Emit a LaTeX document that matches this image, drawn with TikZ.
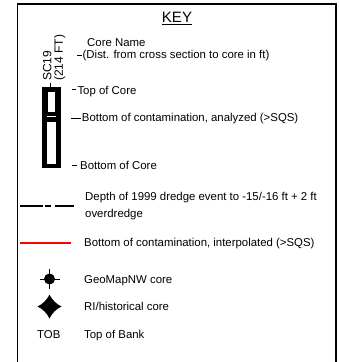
\documentclass[tikz,border=0pt]{standalone}
\usepackage{fontspec}
\setmainfont{Liberation Sans}
\begin{document}
\begin{tikzpicture}[x=1pt,y=-1pt,
	lbl/.style={anchor=base west,inner sep=0pt,font=\fontsize{11.4}{13.7}\selectfont},
	tick/.style={line width=0.9pt}]
	\useasboundingbox (0,0) rectangle (339,362);
	\draw[line width=1.5pt] (17.5,362)--(17.5,4.2)--(335.8,4.2)--(335.8,362);
	\node[anchor=base,inner sep=0pt,font=\fontsize{15}{18}\selectfont] (key) at (177,22.7) {\underline{KEY}};
	% core column
	\fill (42,87) rectangle (61,168);
	\fill[white] (47.5,92) rectangle (55,111.5);
	\fill[white] (46.5,116) rectangle (55.5,117.3);
	\fill[white] (46.5,122) rectangle (56,164);
	\node[rotate=90,anchor=west,align=left,inner sep=0pt,font=\fontsize{12}{11.5}\selectfont] (coreName) at (54.3,81) {SC19\\(214 FT)};
	\draw[tick] (50,82.5)--(50,87);
	\node[lbl] (name) at (87,46) {Core Name};
	\node[lbl] (dist) at (82.5,58.5) {(Dist. from cross section to core in ft)};
	\draw[tick] (77,55.5)--(82,55.5);
	\node[lbl] (top) at (77.3,94) {Top of Core};
	\draw[tick] (71.7,89.5)--(76,89.5);
	\node[lbl] (analyzed) at (81.7,121.8) {Bottom of contamination, analyzed (>SQS)};
	\draw[tick] (70.7,118)--(80.7,118);
	\node[lbl] (bottom) at (80,169) {Bottom of Core};
	\draw[tick] (71.7,165.5)--(77.3,165.5);
	% line types
	\draw[line width=2.7pt,dash pattern=on 22.5pt off 2.5pt on 6pt off 3.5pt] (20,206)--(74,206);
	\node[lbl] (dredge) at (85,200) {Depth of 1999 dredge event to -15/-16 ft + 2 ft};
	\node[lbl] (over) at (85,217.5) {overdredge};
	\draw[red,line width=2pt] (20,242.7)--(71,242.7);
	\node[lbl] (interp) at (84,246.5) {Bottom of contamination, interpolated (>SQS)};
	% symbols
	\fill (49.5,279) circle (5.5);
	\draw[tick] (39.5,279)--(59.5,279) (49.5,269)--(49.5,289);
	\node[lbl] (geo) at (84,283) {GeoMapNW core};
	\fill[shift={(49.5,306.5)}] (12,0) .. controls (7,2.2) and (2.2,7) .. (0,12)
		.. controls (-2.2,7) and (-7,2.2) .. (-12,0)
		.. controls (-7,-2.2) and (-2.2,-7) .. (0,-12)
		.. controls (2.2,-7) and (7,-2.2) .. (12,0) -- cycle;
	\node[lbl] (ri) at (84,310.5) {RI/historical core};
	\node[lbl,anchor=base] (tob) at (48.8,338.3) {TOB};
	\node[lbl] (bank) at (84,338.3) {Top of Bank};
\end{tikzpicture}
\end{document}
